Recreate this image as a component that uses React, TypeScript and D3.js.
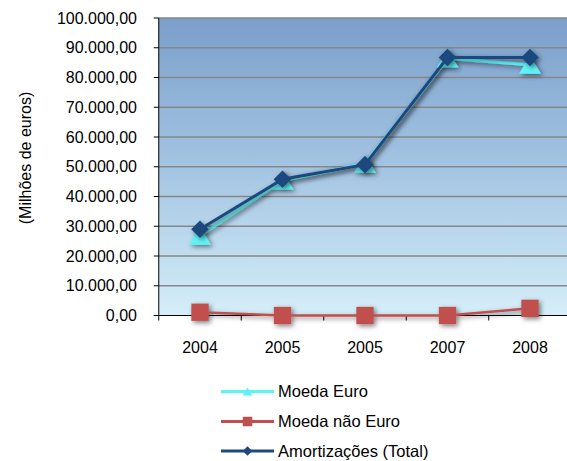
import React, { useEffect, useRef } from "react";
import * as d3 from "d3";

// Categories (the third label repeats "2005" as in the source table)
const years = ["2004", "2005", "2005", "2007", "2008"];
const moedaEuro = [26800, 45400, 51000, 86400, 84300];
const moedaNaoEuro = [1100, 0, 0, 0, 2400];
const amortizacoesTotal = [29000, 45800, 50700, 86700, 86700];
const yTicks = [0, 10000, 20000, 30000, 40000, 50000, 60000, 70000, 80000, 90000, 100000];
const seriesNames = ["Moeda Euro", "Moeda não Euro", "Amortizações (Total)"];

const W = 567;
const H = 461;
const FONT = "'Liberation Sans', Arial, sans-serif";

// Triangle centred on its bounding box; size is used as the box width.
const boxTriangle: d3.SymbolType = {
  draw(ctx, size) {
    const w = size;
    const h = size * 0.82;
    ctx.moveTo(0, -h / 2);
    ctx.lineTo(w / 2, h / 2);
    ctx.lineTo(-w / 2, h / 2);
    ctx.closePath();
  },
};

export default function App() {
  const ref = useRef<SVGSVGElement>(null);

  useEffect(() => {
    const svg = d3.select(ref.current);
    svg.selectAll("*").remove();

    const left = 158.75;
    const right = 571.25;
    const top = 18;
    const bottom = 315.5;

    const x = d3.scaleBand<number>().domain(d3.range(years.length)).range([left, right]).padding(0);
    const y = d3.scaleLinear().domain([0, 100000]).range([bottom, top]);
    const cx = (i: number) => (x(i) as number) + x.bandwidth() / 2;

    const locale = d3.formatLocale({ decimal: ",", thousands: ".", grouping: [3], currency: ["€", ""] });
    const fmt = locale.format(",.2f");

    const defs = svg.append("defs");
    const grad = defs.append("linearGradient").attr("id", "plotBg").attr("x1", 0).attr("y1", 0).attr("x2", 0).attr("y2", 1);
    grad.append("stop").attr("offset", "0%").attr("stop-color", "#7b9fcb");
    grad.append("stop").attr("offset", "50%").attr("stop-color", "#a3c4e2");
    grad.append("stop").attr("offset", "100%").attr("stop-color", "#d5eff9");

    const shadow = defs.append("filter").attr("id", "shadow").attr("x", "-50%").attr("y", "-50%").attr("width", "200%").attr("height", "200%");
    shadow.append("feDropShadow").attr("dx", 2).attr("dy", 2).attr("stdDeviation", 2.5).attr("flood-color", "#000").attr("flood-opacity", 0.5);

    // plot background
    svg.append("rect").attr("x", left).attr("y", top).attr("width", right - left).attr("height", bottom - top).attr("fill", "url(#plotBg)");

    // horizontal gridlines
    svg.append("g").selectAll("line").data(yTicks.filter((t) => t > 0)).join("line")
      .attr("x1", left).attr("x2", right)
      .attr("y1", (d) => y(d)).attr("y2", (d) => y(d))
      .attr("stroke", "#878787").attr("stroke-width", 1.5);

    // y axis
    const ya = svg.append("g");
    ya.append("line").attr("x1", left).attr("x2", left).attr("y1", top).attr("y2", bottom).attr("stroke", "#000").attr("stroke-width", 1);
    ya.selectAll("line.t").data(yTicks).join("line").attr("class", "t")
      .attr("x1", left - 5).attr("x2", left).attr("y1", (d) => y(d)).attr("y2", (d) => y(d))
      .attr("stroke", "#000").attr("stroke-width", 1);
    ya.selectAll("text").data(yTicks).join("text")
      .attr("x", 137).attr("y", (d) => y(d)).attr("dy", "0.35em")
      .attr("text-anchor", "end").attr("font-family", FONT).attr("font-size", 16).attr("fill", "#000")
      .text((d) => fmt(d));

    // x axis
    const xa = svg.append("g");
    xa.append("line").attr("x1", left).attr("x2", right).attr("y1", bottom).attr("y2", bottom).attr("stroke", "#000").attr("stroke-width", 1);
    xa.selectAll("line.t").data(d3.range(years.length + 1)).join("line").attr("class", "t")
      .attr("x1", (i) => left + i * x.bandwidth()).attr("x2", (i) => left + i * x.bandwidth())
      .attr("y1", bottom).attr("y2", bottom + 5).attr("stroke", "#000").attr("stroke-width", 1);
    xa.selectAll("text").data(years).join("text")
      .attr("x", (_, i) => cx(i)).attr("y", 353)
      .attr("text-anchor", "middle").attr("font-family", FONT).attr("font-size", 16).attr("fill", "#000")
      .text((d) => d);

    // y axis title
    svg.append("text")
      .attr("transform", "translate(31,158) rotate(-90)")
      .attr("text-anchor", "middle").attr("font-family", FONT).attr("font-size", 16).attr("fill", "#000")
      .text("(Milhões de euros)");

    const line = d3.line<number>().x((_, i) => cx(i)).y((d) => y(d));

    const triangle = d3.symbol().type(boxTriangle).size(22);
    const square = d3.symbol().type(d3.symbolSquare).size(300);
    const diamond = d3.symbol().type(d3.symbolSquare).size(155);

    // Moeda Euro
    const gEuro = svg.append("g").attr("filter", "url(#shadow)");
    gEuro.append("path").attr("d", line(moedaEuro)).attr("fill", "none").attr("stroke", "#5ef3f6").attr("stroke-width", 3);
    gEuro.selectAll("path.m").data(moedaEuro).join("path").attr("class", "m")
      .attr("d", triangle()).attr("transform", (d, i) => `translate(${cx(i)},${y(d)})`)
      .attr("fill", "#5ef3f6");

    // Moeda não Euro
    const gNao = svg.append("g").attr("filter", "url(#shadow)");
    gNao.append("path").attr("d", line(moedaNaoEuro)).attr("fill", "none").attr("stroke", "#c0504d").attr("stroke-width", 2.5);
    gNao.selectAll("path.m").data(moedaNaoEuro).join("path").attr("class", "m")
      .attr("d", square()).attr("transform", (d, i) => `translate(${cx(i)},${y(d)})`)
      .attr("fill", "#c0504d");

    // Amortizações (Total)
    const gTot = svg.append("g").attr("filter", "url(#shadow)");
    gTot.append("path").attr("d", line(amortizacoesTotal)).attr("fill", "none").attr("stroke", "#1f497d").attr("stroke-width", 3);
    gTot.selectAll("path.m").data(amortizacoesTotal).join("path").attr("class", "m")
      .attr("d", diamond()).attr("transform", (d, i) => `translate(${cx(i)},${y(d)}) rotate(45)`)
      .attr("fill", "#1f497d");

    // legend
    const legendColors = ["#5ef3f6", "#c0504d", "#1f497d"];
    const legendY = [391.5, 421.5, 451];
    const lg = svg.append("g");
    seriesNames.forEach((name, k) => {
      const g = lg.append("g").attr("transform", `translate(0,${legendY[k]})`);
      g.append("line").attr("x1", 221).attr("x2", 274).attr("y1", 0).attr("y2", 0)
        .attr("stroke", legendColors[k]).attr("stroke-width", 3);
      const sym =
        k === 0 ? d3.symbol().type(boxTriangle).size(10)() :
        k === 1 ? d3.symbol().type(d3.symbolSquare).size(90)() :
        d3.symbol().type(d3.symbolSquare).size(45)();
      g.append("path").attr("d", sym)
        .attr("transform", `translate(247.5,0)${k === 2 ? " rotate(45)" : ""}`)
        .attr("fill", legendColors[k]);
      g.append("text").attr("x", 278).attr("y", 0).attr("dy", "0.35em")
        .attr("font-family", FONT).attr("font-size", 16.5).attr("fill", "#000").text(name);
    });
  }, []);

  return (
    <svg
      ref={ref}
      width={W}
      height={H}
      style={{ position: "absolute", left: 0, top: 0, background: "#fff" }}
    />
  );
}
